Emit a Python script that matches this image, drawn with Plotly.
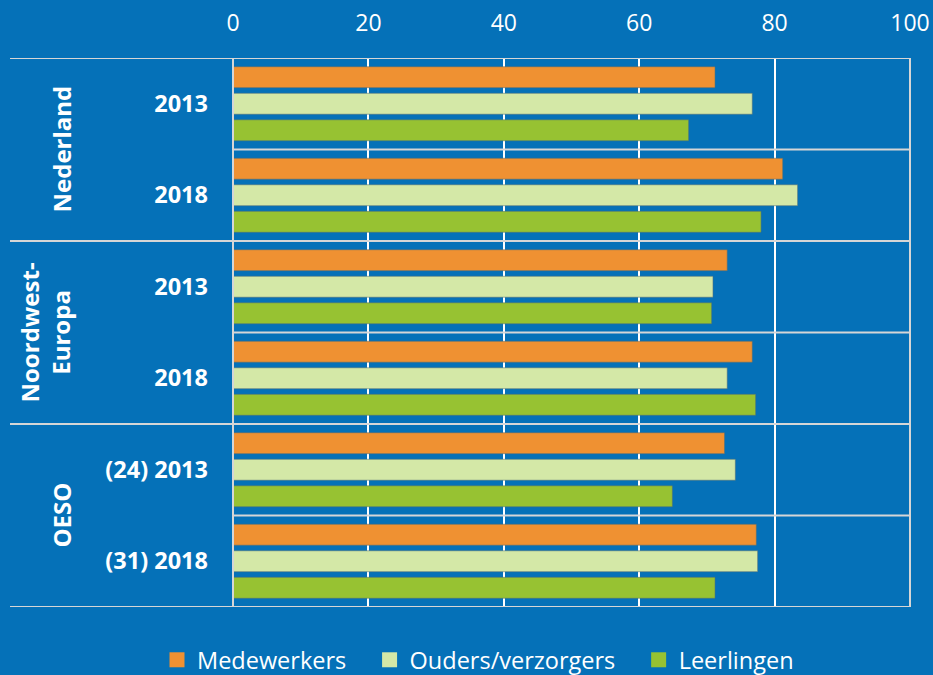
import plotly.graph_objects as go

# ---- data ----
row_ids = ["NL-2013", "NL-2018", "NWE-2013", "NWE-2018", "OESO-2013", "OESO-2018"]
row_labels = ["2013", "2018", "2013", "2018", "(24) 2013", "(31) 2018"]
groups = ["Nederland", "Noordwest-<br>Europa", "OESO"]
series_names = ["Medewerkers", "Ouders/verzorgers", "Leerlingen"]
medewerkers = [71.2, 81.2, 73.0, 76.7, 72.6, 77.3]
ouders = [76.7, 83.4, 70.9, 73.0, 74.2, 77.5]
leerlingen = [67.3, 78.0, 70.7, 77.2, 64.9, 71.2]
x_ticks = [0, 20, 40, 60, 80, 100]

# ---- style ----
BG = "#0571b8"
LINE = "#d6d6d6"
colors = ["#ef9132", "#d4e8a7", "#97c232"]
FONT = "Open Sans"

fig = go.Figure()
for name, vals, col in zip(series_names, [medewerkers, ouders, leerlingen], colors):
    fig.add_trace(go.Bar(
        y=row_ids, x=vals, name=name, orientation="h", showlegend=False,
        marker=dict(color=col, line=dict(color="rgba(80,110,120,0.55)", width=1)),
        hoverinfo="x+name",
    ))
# legend entries (square swatches)
for name, col in zip(series_names, colors):
    fig.add_trace(go.Scatter(
        x=[None], y=[None], mode="markers", name=name + "\u00a0\u00a0\u00a0",
        marker=dict(symbol="square", size=15, color=col, line=dict(width=0)),
    ))

W, H = 933, 675
L, R, T, B = 233, 23, 58, 68
pw = W - L - R
ph = H - T - B

shapes = []
n = len(row_ids)
for i in range(n + 1):
    yv = i - 0.5
    x0 = (10 - L) / pw if i % 2 == 0 else 0
    shapes.append(dict(type="line", xref="paper", yref="y", x0=x0, x1=1, y0=yv, y1=yv,
                       line=dict(color=LINE, width=2), layer="above"))
shapes.append(dict(type="line", xref="paper", yref="paper", x0=0, x1=0, y0=0, y1=1,
                   line=dict(color=LINE, width=2), layer="above"))
shapes.append(dict(type="line", xref="paper", yref="paper", x0=1, x1=1, y0=0, y1=1,
                   line=dict(color=LINE, width=2), layer="above"))

annotations = []
gx = [(61 - L) / pw, (44 - L) / pw, (61 - L) / pw]
for gi, g in enumerate(groups):
    annotations.append(dict(text=g, xref="paper", yref="y", x=gx[gi], y=gi * 2 + 0.5,
                            showarrow=False, textangle=-90, align="center",
                            font=dict(family=FONT, size=24, color="white", weight="bold"),
                            xanchor="center", yanchor="middle"))

fig.update_layout(
    width=W, height=H,
    margin=dict(l=L, r=R, t=T, b=B, autoexpand=False),
    paper_bgcolor=BG, plot_bgcolor=BG,
    barmode="group", bargap=0.13, bargroupgap=0.21,
    font=dict(family=FONT, color="white"),
    xaxis=dict(side="top", range=[0, 100], tickvals=x_ticks, showgrid=True,
               gridcolor="white", gridwidth=1.5, zeroline=False, showline=False,
               tickfont=dict(family=FONT, size=23, color="white"), automargin=False,
               ticklabelstandoff=21, fixedrange=True),
    yaxis=dict(categoryorder="array", categoryarray=row_ids, range=[n - 0.5, -0.5],
               tickvals=row_ids, ticktext=row_labels, showgrid=False, zeroline=False,
               tickfont=dict(family=FONT, size=23.5, color="white", weight="bold"),
               ticklabelstandoff=24, fixedrange=True, automargin=False),
    legend=dict(orientation="h", xref="container", x=487 / W, xanchor="center",
                yref="container", y=(H - 660) / H, yanchor="middle",
                font=dict(family=FONT, size=23.5, color="white"),
                bgcolor="rgba(0,0,0,0)", traceorder="normal", itemwidth=30),
    shapes=shapes, annotations=annotations,
)

fig.write_html("out.html", config={"displayModeBar": False},
               post_script="document.body.style.margin='0';")
